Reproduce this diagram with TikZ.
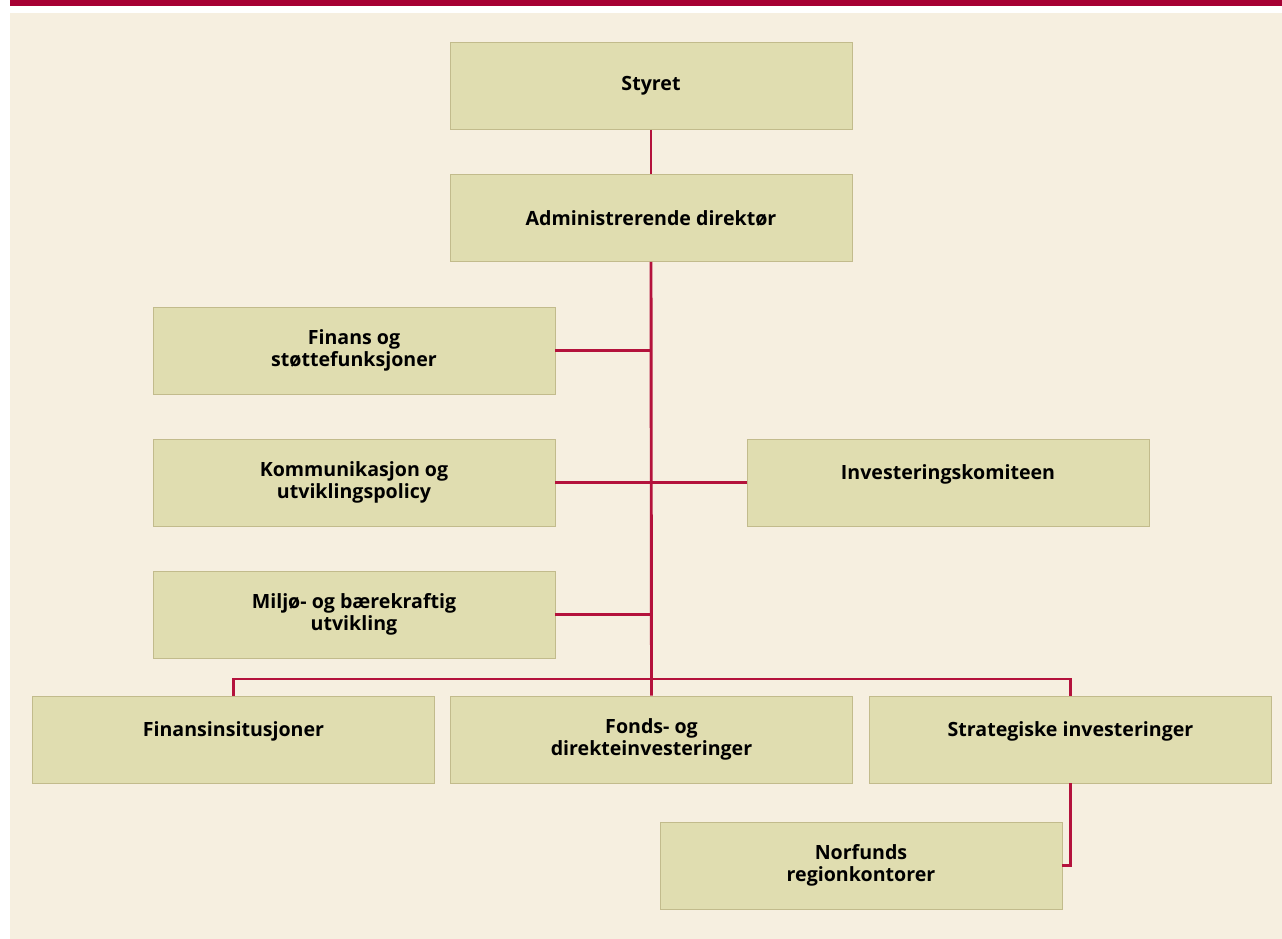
\documentclass[tikz,border=0pt]{standalone}
\usepackage{fontspec}
\setmainfont{Open Sans}
\definecolor{barred}{HTML}{A60033}
\definecolor{bgbeige}{HTML}{F6EFE0}
\definecolor{boxfill}{HTML}{E0DDB0}
\definecolor{boxedge}{HTML}{C2BB8C}
\definecolor{linkred}{HTML}{B4123C}
\tikzset{
  orgbox/.style={draw=boxedge, line width=0.8pt, fill=boxfill, minimum width=402pt, minimum height=87pt, inner sep=0pt, align=center, font=\fontsize{19.6}{21.5}\selectfont\bfseries},
  link/.style={draw=linkred, line width=2.9pt}
}
\begin{document}
\begin{tikzpicture}[x=1pt,y=-1pt]
\useasboundingbox (0,0) rectangle (1282,939);
\fill[white] (0,0) rectangle (1282,939);
\fill[barred] (10,0) rectangle (1282,6);
\fill[bgbeige] (10,13) rectangle (1282,939);

\node[orgbox] (sty) at (651,86) {Styret};
\node[orgbox] (adm) at (651,218) {Administrerende direktør};
\node[orgbox] (fin) at (354,350.5) {Finans og\\støttefunksjoner};
\node[orgbox] (kom) at (354,482.5) {Kommunikasjon og\\utviklingspolicy};
\node[orgbox] (inv) at (948,482.5) {Investeringskomiteen\\\mbox{}};
\node[orgbox] (mil) at (354,614.5) {Miljø- og bærekraftig\\utvikling};
\node[orgbox] (fst) at (233.5,739.5) {Finansinsitusjoner\\\mbox{}};
\node[orgbox] (fon) at (651.5,739.5) {Fonds- og\\direkteinvesteringer};
\node[orgbox] (str) at (1070.5,739.5) {Strategiske investeringer\\\mbox{}};
\node[orgbox] (nor) at (861,865.5) {Norfunds\\regionkontorer};
\coordinate (bus) at (651.5,679);

\draw[link] (sty.south) -- (adm.north);
\draw[link] (fin.east) -- (fin.east -| adm.south);
\draw[link] (kom.east) -- (inv.west);
\draw[link] (mil.east) -- (mil.east -| adm.south);
\draw[link] (fst.north) |- (bus) -| (str.north);
\draw[link] (adm.south) -- (fon.north);
\draw[link] (str.south) |- (nor.east);
\end{tikzpicture}
\end{document}
